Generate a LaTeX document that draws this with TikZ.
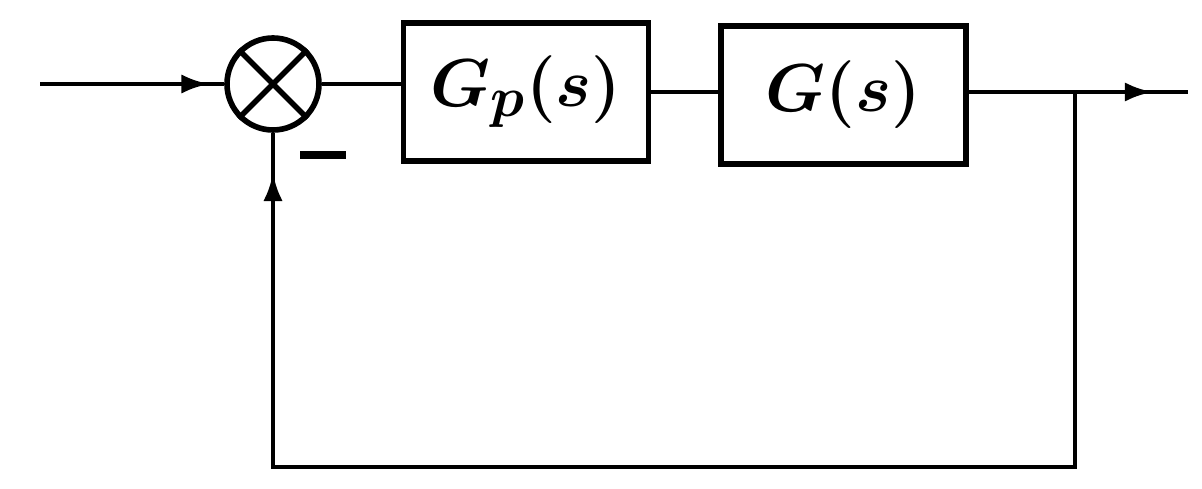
\documentclass[tikz,border=0pt]{standalone}
\usepackage{graphicx}
\usetikzlibrary{decorations.markings,arrows.meta}
\begin{document}
\begin{tikzpicture}[x=0.02cm,y=-0.02cm,
  wire/.style={line width=2.8pt},
  blk/.style={draw,line width=3.4pt,minimum width=245*0.02cm,minimum height=138*0.02cm,inner sep=0pt,font=\fontsize{24.88}{28}\selectfont\boldmath},
  midarrow/.style={decoration={markings,mark=at position #1 with {\arrow{Latex[length=16pt,width=11pt]}}},postaction={decorate}}]
\useasboundingbox (0,0) rectangle (1202,489);
\node[draw,circle,line width=3.2pt,minimum size=92*0.02cm,inner sep=0pt] (sum) at (273,84) {};
\draw[line width=3.2pt] (sum.north west) -- (sum.south east) (sum.north east) -- (sum.south west);
\node[blk] (gp) at (526,92) {\scalebox{1.55}{$G_p(s)$}};
\node[blk] (g) at (843,95) {\scalebox{1.55}{$G(s)$}};
\coordinate (in) at (40,84);
\coordinate (br) at (1075,92);
\coordinate (out) at (1188,92);
\coordinate (bl) at (273,467);
\coordinate (brb) at (1075,467);
\draw[wire,midarrow=0.92] (in) -- (sum.west);
\draw[wire] (sum.east) -- (gp.west |- sum.east);
\draw[wire] (gp.east) -- (g.west |- gp.east);
\draw[wire,midarrow=0.84] (g.east |- br) -- (out);
\draw[wire] (br) -- (brb) -- (bl) -- (sum.south);
\draw[wire,midarrow=0.88] (bl) -- (sum.south);
\node[inner sep=0pt] (minus) at (323,155) {\rule{26pt}{4pt}};
\end{tikzpicture}
\end{document}
